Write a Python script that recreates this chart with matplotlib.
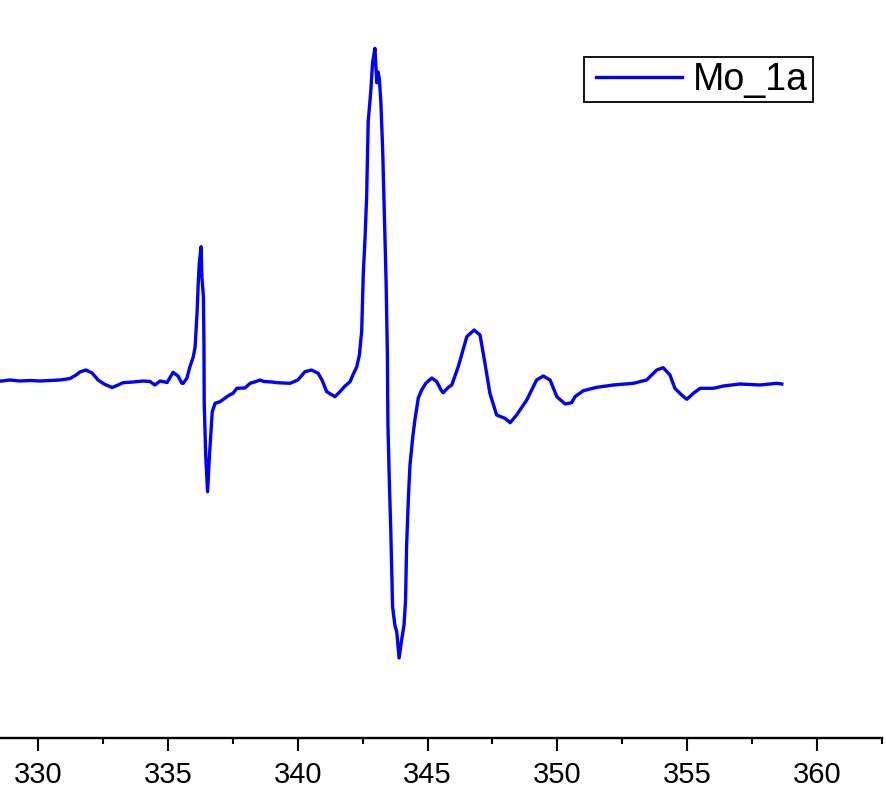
import matplotlib
matplotlib.use('Agg')
import matplotlib.pyplot as plt
from matplotlib.ticker import MultipleLocator
from matplotlib.legend_handler import HandlerLine2D

# magnetic field (mT) and EPR intensity (a.u.)
field = [328.40, 328.60, 328.91, 329.29, 329.68, 330.06, 330.45, 330.83, 331.22, 331.45,
         331.60, 331.83, 332.07, 332.30, 332.53, 332.84, 333.07, 333.26, 333.65, 334.03,
         334.30, 334.49, 334.69, 334.96, 335.19, 335.38, 335.53, 335.58, 335.72, 335.84,
         335.97, 336.04, 336.07, 336.12, 336.16, 336.20, 336.27, 336.30, 336.36, 336.38,
         336.39, 336.45, 336.52, 336.59, 336.64, 336.70, 336.81, 337.00, 337.36, 337.50,
         337.65, 337.96, 338.16, 338.39, 338.54, 338.69, 338.81, 339.00, 339.20, 339.47,
         339.70, 340.00, 340.27, 340.53, 340.78, 340.93, 341.11, 341.43, 341.62, 341.82,
         342.01, 342.12, 342.27, 342.37, 342.46, 342.52, 342.59, 342.65, 342.71, 342.81,
         342.88, 342.97, 343.04, 343.09, 343.14, 343.20, 343.27, 343.32, 343.40, 343.45,
         343.47, 343.52, 343.58, 343.65, 343.74, 343.81, 343.90, 344.00, 344.09, 344.15,
         344.19, 344.26, 344.32, 344.43, 344.51, 344.64, 344.77, 344.94, 345.16, 345.35,
         345.54, 345.60, 345.79, 345.93, 346.18, 346.51, 346.79, 347.02, 347.21, 347.40,
         347.66, 347.98, 348.18, 348.43, 348.82, 349.20, 349.46, 349.72, 349.98, 350.30,
         350.55, 350.68, 351.00, 351.52, 352.16, 352.93, 353.44, 353.83, 354.08, 354.34,
         354.53, 354.79, 354.99, 355.24, 355.50, 356.01, 356.40, 357.04, 357.81, 358.45,
         358.65]
intensity = [0, 0, 1, 0, 0.5, 0, 0.5, 1, 2.5, 6,
             9, 11, 8, 1, -3, -6.5, -4, -1.7, -1, 0,
             -0.5, -4, 0, -1.5, 8.7, 5, -2.3, -2.3, 2.7, 14.3,
             24.3, 34.3, 47.7, 71, 97.7, 117.7, 134.3, 104.3, 84.3, 37.7,
             -22.3, -75.7, -110.7, -75.7, -55.7, -30.7, -22.3, -20.7, -14, -12.3,
             -7.3, -7, -2.3, -0.5, 1, -0.5, -0.7, -1, -1.7, -2,
             -2.3, 1, 9.3, 11, 7.7, 1, -10.7, -15.7, -10.7, -5,
             -0.7, 6, 14.3, 26, 50.2, 107.1, 143.7, 184.3, 259.5, 290,
             318.5, 332.7, 298.2, 309, 302.2, 278, 229, 180.3, 99, 26,
             -43, -96, -149, -226, -244.5, -250.6, -277, -258.8, -244, -219,
             -165, -116.5, -84, -55.5, -39, -17, -9, -2, 3, -0.6,
             -10, -11.7, -6.5, -4, 14.3, 44.3, 51, 46, 17.7, -12.3,
             -34, -37.3, -41.7, -34, -19, 1, 5, 1, -15.7, -23,
             -21.7, -15.7, -9.7, -6.3, -4, -2.3, 1, 11, 13.3, 6,
             -7.3, -14, -18.3, -12.3, -7.3, -7.3, -5, -3, -4, -2.3,
             -3]
label = 'Mo_1a'

W, H = 887, 791
fig = plt.figure(figsize=(W / 100, H / 100), dpi=100)
ax = fig.add_axes([0, 1 - 738.3 / H, 881.7 / W, 738.3 / H])
line, = ax.plot(field, intensity, color='#0000ff', lw=2.4, label=label)

ax.set_xlim(328.52, 362.5)
ax.set_ylim(-357.3, 381)
ax.xaxis.set_major_locator(MultipleLocator(5))
ax.xaxis.set_minor_locator(MultipleLocator(2.5))
for s in ['left', 'right', 'top']:
    ax.spines[s].set_visible(False)
ax.spines['bottom'].set_linewidth(1.7)
ax.set_yticks([])
ax.tick_params(axis='x', which='major', length=9, width=1.5, direction='out', pad=7,
               labelsize=21)
ax.tick_params(axis='x', which='minor', length=4.3, width=1.5, direction='out')
for t in ax.get_xticklabels():
    t.set_fontfamily('Liberation Sans')

leg = ax.legend(loc='upper left', bbox_to_anchor=(584.3 / W, 1 - 57.3 / H),
                bbox_transform=fig.transFigure, borderaxespad=0, fancybox=False,
                edgecolor='black', prop={'family': 'Liberation Sans', 'size': 27},
                handlelength=2.48, handletextpad=0.3, borderpad=0.12,
                handler_map={line: HandlerLine2D(xpad=0.19)})
leg.get_frame().set_linewidth(1.3)
leg.get_frame().set_alpha(1)

fig.savefig('out.png', dpi=100)
